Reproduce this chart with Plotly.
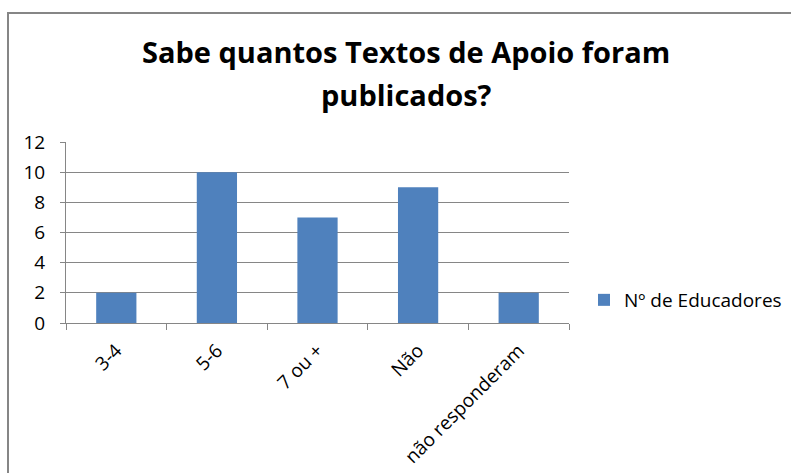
import plotly.graph_objects as go

categories = ["3-4", "5-6", "7 ou +", "Não", "não responderam"]
values = [2, 10, 7, 9, 2]
series_name = "Nº de Educadores"
title_lines = ["Sabe quantos Textos de Apoio foram", "publicados?"]
y_ticks = [0, 2, 4, 6, 8, 10, 12]

W, H = 791, 473
L, R, T, B = 66, 222, 142, 150
pw, ph = W - L - R, H - T - B

fig = go.Figure()
fig.add_trace(go.Bar(x=categories, y=values, name=series_name,
                     marker=dict(color="#4F81BD", line=dict(width=0)),
                     showlegend=True))

grey = "#868686"
font = "Open Sans, sans-serif"
fs = 19
fig.update_layout(
    width=W, height=H,
    margin=dict(l=L, r=R, t=T, b=B, autoexpand=False),
    paper_bgcolor="white", plot_bgcolor="white",
    font=dict(family=font, size=fs, color="#000000"),
    bargap=0.6,
    showlegend=True,
    legend=dict(x=(584 - L) / pw, y=(323 - 300) / ph, xanchor="left", yanchor="middle",
                font=dict(size=fs), itemwidth=30, bgcolor="rgba(0,0,0,0)"),
    xaxis=dict(type="category", showline=True, linecolor=grey, linewidth=1,
               ticks="outside", tickson="boundaries", ticklen=6, tickcolor=grey,
               tickangle=-45, showgrid=False, zeroline=False, automargin=False,
               ticklabelstandoff=8, tickfont=dict(size=fs)),
    yaxis=dict(range=[0, 12], tickvals=y_ticks, showline=True, linecolor=grey,
               linewidth=1, ticks="outside", ticklen=5, tickcolor=grey,
               showgrid=True, gridcolor=grey, gridwidth=1, zeroline=False,
               automargin=False, ticklabelstandoff=11, tickfont=dict(size=fs)),
)

# title (two lines, as in the reference)
for line, yc in zip(title_lines, [52, 94]):
    fig.add_annotation(text="<b>%s</b>" % line, xref="paper", yref="paper",
                       x=(406 - L) / pw, y=(323 - yc) / ph,
                       xanchor="center", yanchor="middle", showarrow=False,
                       font=dict(family=font, size=29, color="#000000"))

# chart-area border (extends beyond the visible window on right/bottom)
fig.add_shape(type="rect", xref="paper", yref="paper",
              x0=(8 - L) / pw, x1=(W + 40 - L) / pw,
              y0=-(H + 40 - 323) / ph, y1=(323 - 13) / ph,
              line=dict(color=grey, width=2), fillcolor="rgba(0,0,0,0)",
              layer="below")

fig.write_html("out.html")
